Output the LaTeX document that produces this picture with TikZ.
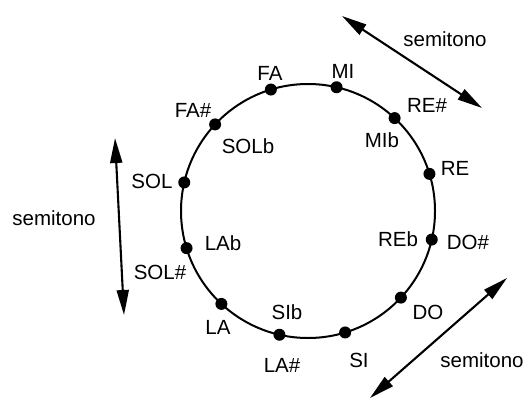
\documentclass[tikz,border=0pt]{standalone}
\usepackage{fontspec}
\setmainfont{Liberation Sans}
\usetikzlibrary{arrows.meta}
\begin{document}
\begin{tikzpicture}[x=1pt,y=1pt,
  dot/.style={circle,fill=black,inner sep=0pt,minimum size=12pt},
  lbl/.style={inner sep=0pt,font=\fontsize{20.5}{20.5}\selectfont},
  semi/.style={line width=2.1pt,{Triangle[length=25pt,width=12pt]}-{Triangle[length=25pt,width=12pt]}}]
\useasboundingbox (0,0) rectangle (529,400);
\coordinate (c) at (308,189);
\draw[line width=2pt] (c) circle (127);
% dots
\node[dot] (dFA)   at ([shift={(107:127)}]c) {};
\node[dot] (dMI)   at ([shift={(77:127)}]c) {};
\node[dot] (dMIb)  at ([shift={(47:127)}]c) {};
\node[dot] (dRE)   at ([shift={(17:127)}]c) {};
\node[dot] (dDOs)  at ([shift={(-13:127)}]c) {};
\node[dot] (dDO)   at ([shift={(-43:127)}]c) {};
\node[dot] (dSI)   at ([shift={(-73:127)}]c) {};
\node[dot] (dLAs)  at ([shift={(-103:127)}]c) {};
\node[dot] (dLA)   at ([shift={(-133:127)}]c) {};
\node[dot] (dLAb)  at ([shift={(-163:127)}]c) {};
\node[dot] (dSOL)  at ([shift={(167:127)}]c) {};
\node[dot] (dSOLb) at ([shift={(137:127)}]c) {};
% labels
\node[lbl] (tFA)   at (270,327) {FA};
\node[lbl] (tMI)   at (343,329) {MI};
\node[lbl] (tREs)  at (427,295) {RE\#};
\node[lbl] (tMIb)  at (382,260) {MIb};
\node[lbl] (tRE)   at (455,232) {RE};
\node[lbl] (tREb)  at (398,161) {REb};
\node[lbl] (tDOs)  at (468,158) {DO\#};
\node[lbl] (tDO)   at (428,88) {DO};
\node[lbl] (tSI)   at (359,40) {SI};
\node[lbl] (tSIb)  at (287,88) {SIb};
\node[lbl] (tLAs)  at (282,35) {LA\#};
\node[lbl] (tLA)   at (218,73) {LA};
\node[lbl] (tSOLs) at (160,128) {SOL\#};
\node[lbl] (tLAb)  at (223,157) {LAb};
\node[lbl] (tSOL)  at (152,219) {SOL};
\node[lbl] (tSOLb) at (248,254) {SOLb};
\node[lbl] (tFAs)  at (193,290) {FA\#};
\node[lbl] (s1) at (445,361) {semitono};
\node[lbl] (s2) at (54,182) {semitono};
\node[lbl] (s3) at (482,40) {semitono};
% arrows
\coordinate (a1) at (342,384);
\coordinate (b1) at (482,292);
\coordinate (a2) at (115,262);
\coordinate (b2) at (124,85);
\coordinate (a3) at (507,122);
\coordinate (b3) at (370,2);
\draw[semi] (a1) -- (b1);
\draw[semi] (a2) -- (b2);
\draw[semi] (a3) -- (b3);
\end{tikzpicture}
\end{document}
